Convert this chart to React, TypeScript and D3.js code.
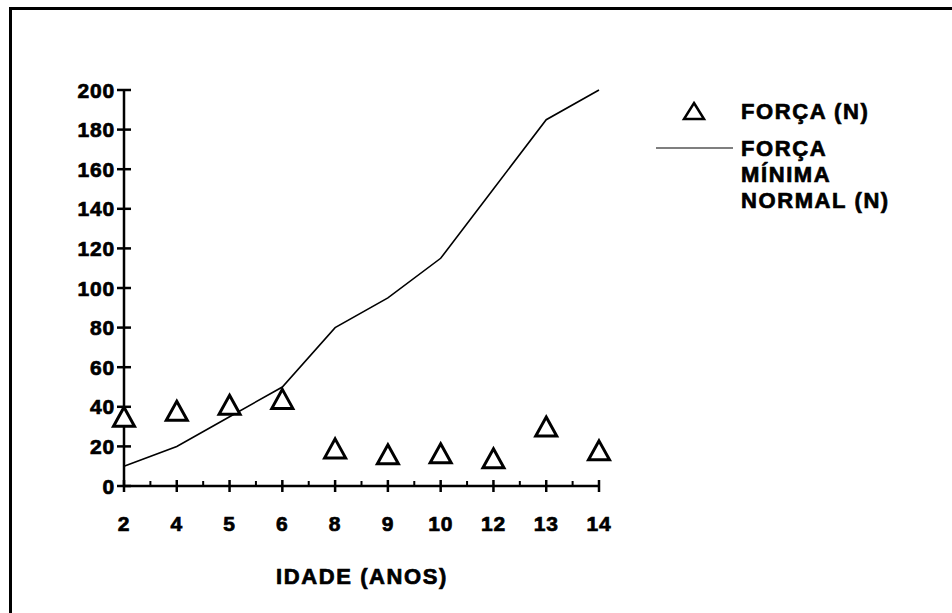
import React from "react";
import * as d3 from "d3";

const categories = ["2", "4", "5", "6", "8", "9", "10", "12", "13", "14"];
const forca = [35, 38, 41, 44, 19, 16, 16.5, 14, 30, 18];
const forcaMinima = [10, 20, 35, 50, 80, 95, 115, 150, 185, 200];
const yTicks = [0, 20, 40, 60, 80, 100, 120, 140, 160, 180, 200];
const legendLabels = ["FORÇA (N)", ["FORÇA", "MÍNIMA", "NORMAL (N)"]] as const;
const xTitle = "IDADE (ANOS)";

const W = 952;
const H = 613;
const FONT = "'Liberation Sans', Arial, Helvetica, sans-serif";

function triPath(cx: number, cy: number, w = 21, h = 19) {
  const p = d3.path();
  p.moveTo(cx, cy - h / 2);
  p.lineTo(cx + w / 2, cy + h / 2);
  p.lineTo(cx - w / 2, cy + h / 2);
  p.closePath();
  return p.toString();
}

export default function App() {
  const x = d3.scalePoint<string>().domain(categories).range([124, 599]);
  const y = d3.scaleLinear().domain([0, 200]).range([486, 90]);
  const step = x.step();

  const line = d3
    .line<number>()
    .x((_, i) => x(categories[i]) as number)
    .y((d) => y(d));

  const textStyle: React.CSSProperties = {
    fontFamily: FONT,
    fontWeight: 700,
    fontSize: 21,
    fill: "#000",
    stroke: "#000",
    strokeWidth: 0.7,
  };
  const wordStyle: React.CSSProperties = { ...textStyle, fontSize: 22, letterSpacing: 1.6 };

  const minorTicks = categories.slice(0, -1).map((c) => (x(c) as number) + step / 2);

  return (
    <svg
      width={W}
      height={H}
      style={{ position: "absolute", left: 0, top: 0, background: "#fff" }}
    >
      {/* frame */}
      <line x1={9} y1={8.5} x2={W} y2={8.5} stroke="#000" strokeWidth={3} />
      <line x1={10.5} y1={7} x2={10.5} y2={H} stroke="#000" strokeWidth={3} />

      {/* y axis */}
      <line x1={124} x2={124} y1={y(0)} y2={y(200)} stroke="#000" strokeWidth={2.5} />
      {yTicks.map((t) => (
        <g key={t}>
          <line x1={117} x2={131} y1={y(t)} y2={y(t)} stroke="#000" strokeWidth={2.5} />
          <text
            x={115}
            y={y(t)}
            dy="0.36em"
            textAnchor="end"
            style={{ ...textStyle, letterSpacing: 0.8 }}
          >
            {t}
          </text>
        </g>
      ))}

      {/* x axis */}
      <line x1={x(categories[0])} x2={x(categories[categories.length - 1])} y1={y(0)} y2={y(0)} stroke="#000" strokeWidth={2.5} />
      {categories.map((c) => (
        <g key={c}>
          <line x1={x(c)} x2={x(c)} y1={y(0) - 6} y2={y(0) + 6} stroke="#000" strokeWidth={2.5} />
          <text x={x(c)} y={y(0) + 45} textAnchor="middle" style={{ ...textStyle, letterSpacing: 0.8 }}>
            {c}
          </text>
        </g>
      ))}
      {minorTicks.map((m, i) => (
        <line key={i} x1={m} x2={m} y1={y(0) - 5} y2={y(0)} stroke="#000" strokeWidth={2} />
      ))}

      <text x={362} y={584} textAnchor="middle" style={wordStyle}>
        {xTitle}
      </text>

      {/* series line */}
      <path d={line(forcaMinima) ?? ""} fill="none" stroke="#000" strokeWidth={1.6} />

      {/* triangles */}
      {forca.map((v, i) => (
        <path
          key={i}
          d={triPath(x(categories[i]) as number, y(v))}
          fill="#fff"
          stroke="#000"
          strokeWidth={3}
          strokeLinejoin="miter"
        />
      ))}

      {/* legend */}
      <path d={triPath(694, 111, 20, 16)} fill="#fff" stroke="#000" strokeWidth={2.5} />
      <text x={741} y={119} style={wordStyle}>
        {legendLabels[0]}
      </text>
      <line x1={656} x2={733} y1={148} y2={148} stroke="#000" strokeWidth={1.2} />
      {(legendLabels[1] as readonly string[]).map((t, i) => (
        <text key={t} x={741} y={156 + i * 26} style={wordStyle}>
          {t}
        </text>
      ))}
    </svg>
  );
}
